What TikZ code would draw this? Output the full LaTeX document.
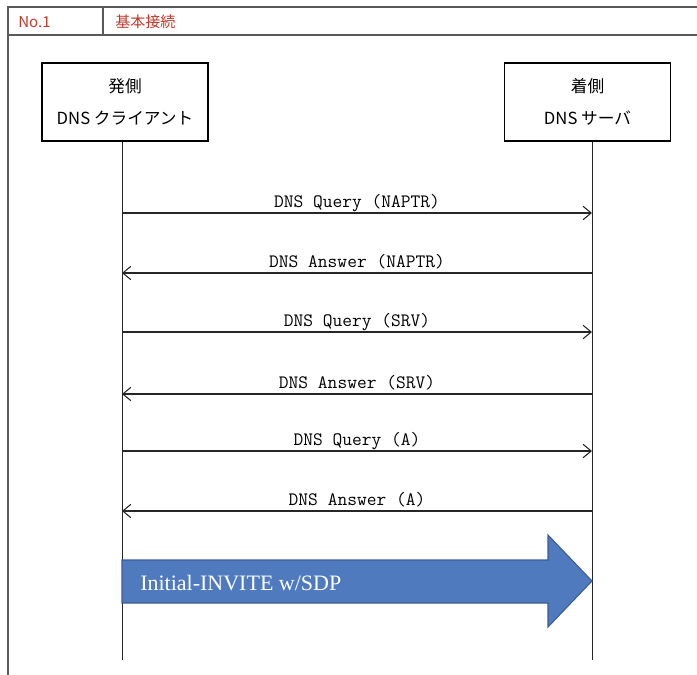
\documentclass[tikz,border=0pt]{standalone}
\usepackage{fontspec}
\newfontfamily\jpfont{Noto Sans CJK JP}
\setmainfont{Liberation Serif}
\usetikzlibrary{arrows.meta}
\definecolor{framegray}{RGB}{90,90,90}
\definecolor{hdrred}{RGB}{192,57,43}
\definecolor{bigfill}{RGB}{79,122,190}
\definecolor{bigedge}{RGB}{58,92,150}
\tikzset{
  entity/.style={draw=black, line width=0.8pt, fill=white, minimum width=166*0.75pt, minimum height=78*0.75pt, inner sep=0pt, align=center, font=\jpfont\fontsize{12.5}{24}\selectfont},
  life/.style={draw=black!85, line width=0.6pt},
  msg/.style={draw=black!85, line width=0.8pt, -{Straight Barb[length=6pt,width=10pt,line width=0.8pt]}},
  msglabel/.style={midway, anchor=base, yshift=4pt, inner sep=0pt, font=\ttfamily\fontsize{14.2}{16}\selectfont},
  hdr/.style={font=\jpfont\fontsize{11.3}{13}\selectfont, text=hdrred, anchor=west, inner sep=0pt},
  frame/.style={draw=framegray, line width=0.8pt}
}
\begin{document}
\begin{tikzpicture}[x=0.75pt,y=-0.75pt]
\useasboundingbox (0,0) rectangle (697,675);
% frame
\draw[frame] (697,7) -- (8,7) -- (8,675);
\draw[frame] (8,35) -- (697,35);
\draw[frame] (103,7) -- (103,35);
\node[hdr] (no) at (18,22) {No.1};
\node[hdr] (title) at (115,22) {基本接続};
% entities
\node[entity] (cli) at (125,102) {発側\\DNS クライアント};
\node[entity] (srv) at (587.5,102) {着側\\DNS サーバ};
\coordinate (cliend) at (122,660);
\coordinate (srvend) at (592,660);
\draw[life] (cli.south -| cliend) -- (cliend);
\draw[life] (srv.south -| srvend) -- (srvend);
% messages
\foreach \i/\y in {1/213,2/273,3/332,4/394,5/451,6/511}{
  \coordinate (c\i) at (122,\y);
  \coordinate (s\i) at (592,\y);
}
\draw[msg] (c1) -- (s1) node[msglabel] {DNS Query (NAPTR)};
\draw[msg] (s2) -- (c2) node[msglabel] {DNS Answer (NAPTR)};
\draw[msg] (c3) -- (s3) node[msglabel] {DNS Query (SRV)};
\draw[msg] (s4) -- (c4) node[msglabel] {DNS Answer (SRV)};
\draw[msg] (c5) -- (s5) node[msglabel] {DNS Query (A)};
\draw[msg] (s6) -- (c6) node[msglabel] {DNS Answer (A)};
% big arrow
\draw[fill=bigfill, draw=bigedge, line width=0.8pt]
  (122,560) -- (548,560) -- (548,535) -- (592,581) -- (548,627) -- (548,603) -- (122,603) -- cycle;
\node[anchor=west, text=white, font=\fontsize{16.5}{19}\selectfont, inner sep=0pt] (invite) at (140,583) {Initial-INVITE w/SDP};
\end{tikzpicture}
\end{document}
